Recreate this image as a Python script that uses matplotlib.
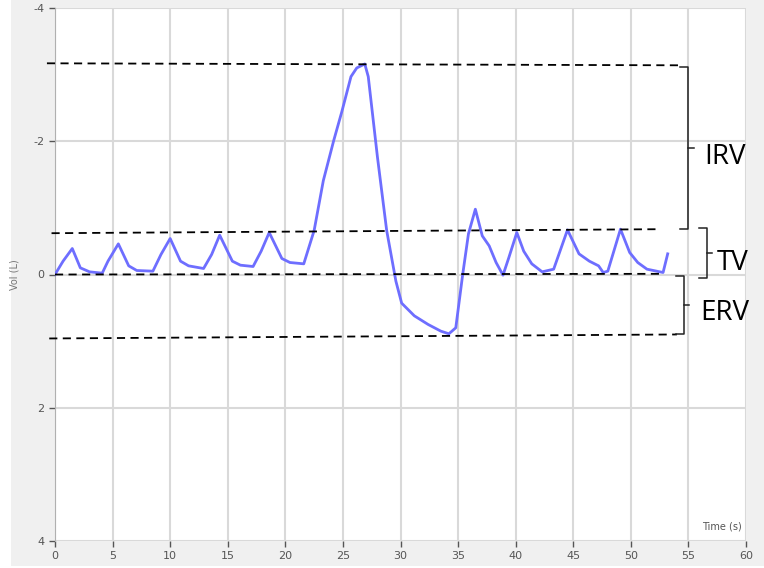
import matplotlib
matplotlib.use("Agg")
import matplotlib.pyplot as plt
from matplotlib.patches import Rectangle

plt.rcParams["axes.unicode_minus"] = False

# Spirometer trace (time in s, volume in L, inspiration negative)
time_s = [0.0, 0.7, 1.5, 2.2, 3.0, 4.1, 4.6, 5.5, 6.4, 7.1, 8.5, 9.2, 10.0, 10.9, 11.6, 12.9,
          13.6, 14.3, 15.4, 16.1, 17.2, 17.9, 18.6, 19.7, 20.4, 21.6, 22.5, 23.3, 24.2, 24.9,
          25.7, 26.2, 26.9, 27.2, 28.0, 28.8, 29.6, 30.1, 31.2, 32.4, 33.5, 34.2, 34.8, 35.4,
          35.9, 36.5, 37.1, 37.7, 38.3, 38.9, 39.4, 40.1, 40.7, 41.4, 42.3, 43.3, 44.5, 45.5,
          46.4, 47.2, 47.6, 48.0, 49.1, 49.9, 50.6, 51.4, 52.8, 53.2]
volume_l = [0.0, -0.2, -0.39, -0.10, -0.04, -0.02, -0.2, -0.46, -0.13, -0.06, -0.05, -0.3, -0.54,
            -0.20, -0.13, -0.09, -0.3, -0.59, -0.20, -0.14, -0.12, -0.35, -0.63, -0.24, -0.18, -0.16,
            -0.66, -1.41, -2.01, -2.44, -2.97, -3.10, -3.16, -2.97, -1.76, -0.66, 0.10, 0.43, 0.62,
            0.75, 0.85, 0.89, 0.80, 0.0, -0.61, -0.98, -0.58, -0.43, -0.18, 0.01, -0.25, -0.63, -0.35,
            -0.16, -0.04, -0.08, -0.67, -0.31, -0.20, -0.13, -0.03, -0.05, -0.68, -0.33, -0.18, -0.08,
            -0.03, -0.31]

# Reference levels: (x start, x end, y start, y end)
ref_lines = [(-0.7, 54.1, -3.17, -3.14),   # top of IRV
             (-0.3, 52.6, -0.62, -0.68),   # top of TV
             (0.0, 52.9, 0.0, -0.01),      # resting level
             (-0.5, 54.0, 0.96, 0.90)]     # bottom of ERV

# Braces: name, x of spine, top, bottom, text x, text y
braces = [("IRV", 55.0, -3.12, -0.68, 56.4, -1.76),
          ("TV", 56.6, -0.70, 0.06, 57.5, -0.18),
          ("ERV", 54.6, 0.02, 0.90, 56.0, 0.58)]

fig = plt.figure(figsize=(7.64, 5.68), dpi=100, facecolor="white")
fig.patches.append(Rectangle((11 / 764, 2 / 568), 1, 1, transform=fig.transFigure,
                             facecolor="#f0f0f0", edgecolor="none", zorder=-10))
ax = fig.add_axes([55 / 764, 27 / 568, 691 / 764, 533 / 568])
ax.set_facecolor("white")

ax.plot(time_s, volume_l, color="#6e6eff", lw=2.0, zorder=3, solid_joinstyle="round")

for x0, x1, y0, y1 in ref_lines:
    ax.plot([x0, x1], [y0, y1], color="black", lw=1.3, ls=(0, (4.5, 3)),
            clip_on=False, zorder=4)

for name, bx, top, bot, tx, ty in braces:
    mid = (top + bot) / 2
    ax.plot([bx - 0.7, bx, bx, bx - 0.7], [top, top, bot, bot], color="#222222",
            lw=1.1, clip_on=False, zorder=4)
    ax.plot([bx, bx + 0.45], [mid, mid], color="#222222", lw=1.1, clip_on=False, zorder=4)
    ax.text(tx, ty, name, fontsize=20, family=["Open Sans", "DejaVu Sans"],
            va="center", ha="left", color="black", clip_on=False)

ax.set_xlim(0, 60)
ax.set_ylim(4, -4)
ax.set_xticks(range(0, 61, 5))
ax.set_yticks([-4, -2, 0, 2, 4])
ax.grid(True, color="#d9d9d9", lw=1.5)
ax.set_axisbelow(True)
for s in ["top", "right", "bottom"]:
    ax.spines[s].set_visible(False)
ax.spines["left"].set_color("#b0b0b0")
ax.tick_params(colors="#555555", labelsize=8, length=4, width=1)
for lab in ax.get_xticklabels() + ax.get_yticklabels():
    lab.set_family(["Liberation Sans Narrow", "DejaVu Sans"])

ax.set_ylabel("Vol (L)", fontsize=7, color="#777777", labelpad=10)
ax.text(59.6, 3.85, "Time (s)", fontsize=7, color="#555555", ha="right", va="bottom",
        family=["Liberation Sans Narrow", "DejaVu Sans"])

fig.savefig("out.png", dpi=100, facecolor=fig.get_facecolor())
